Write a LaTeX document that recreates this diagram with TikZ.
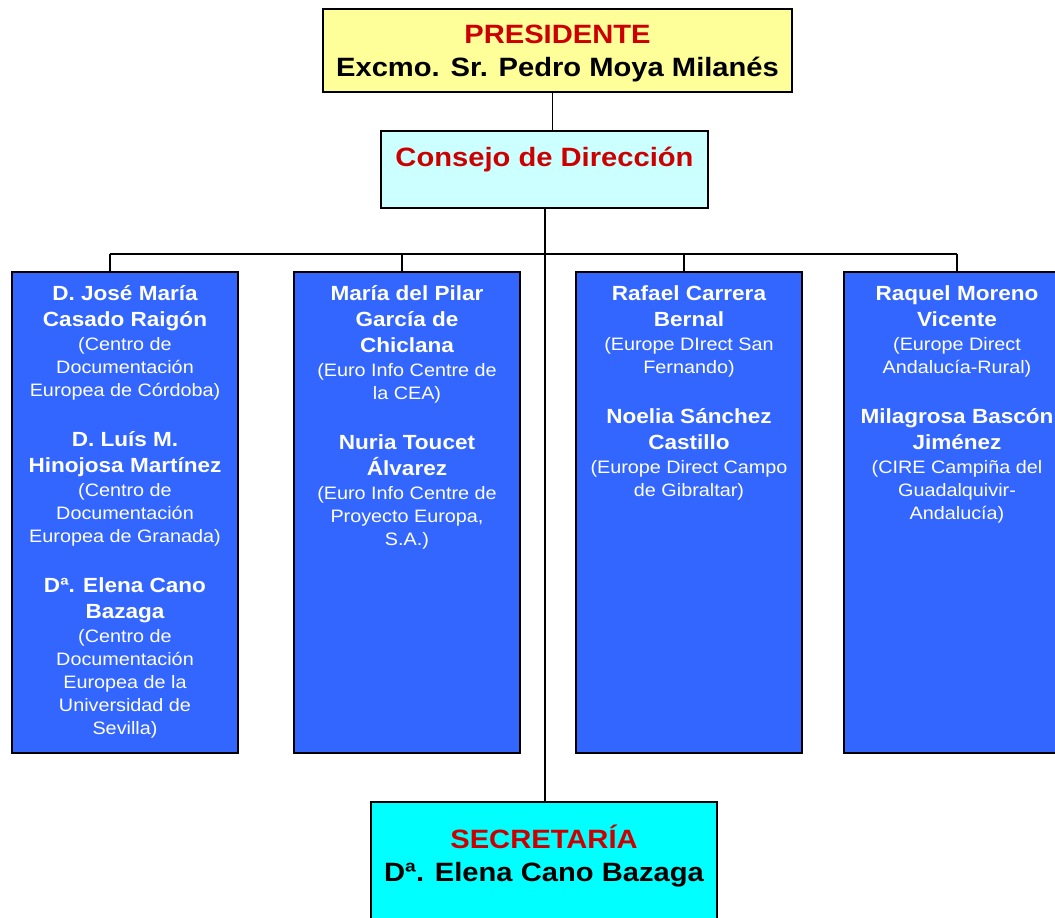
\documentclass[tikz,border=0pt]{standalone}
\usepackage{fontspec}
\setmainfont{Liberation Sans}[FakeStretch=1.1]
\usepackage{xcolor}
\definecolor{presyellow}{RGB}{255,255,153}
\definecolor{conscyan}{RGB}{204,255,255}
\definecolor{seccyan}{RGB}{0,255,255}
\definecolor{colblue}{RGB}{51,102,255}
\definecolor{titlered}{RGB}{204,0,0}
\newcommand{\nm}[1]{{\fontsize{20.5}{26}\selectfont\bfseries #1}}
\newcommand{\topnm}[1]{\rule{0pt}{20pt}\nm{#1}}
\newcommand{\tophead}{\rule{0pt}{26pt}}

\begin{document}
\begin{tikzpicture}[x=1pt,y=-1pt]
    \tikzset{
        headbox/.style={draw,line width=1.5pt,inner sep=0pt},
        headfont/.style={font=\fontsize{26.5}{33}\selectfont\bfseries},
        headtext/.style={headfont,anchor=north,align=center,inner sep=0pt},
        colbox/.style={draw,line width=1.5pt,fill=colblue,minimum width=226pt,minimum height=481pt},
        coltext/.style={anchor=north,align=center,text=white,inner sep=0pt,font=\fontsize{18}{23}\selectfont},
        link/.style={line width=1.5pt}
    }
    \useasboundingbox (0,0) rectangle (1055,918);

    \node[headbox,fill=presyellow,minimum width=469pt,minimum height=83pt] (pres) at (557.5,50.5) {};
    \node[headtext] (prestext) at ([yshift=-9.3pt]pres.north) {\tophead\textcolor{titlered}{PRESIDENTE}\\Excmo. Sr. Pedro Moya Milanés};
    \node[headbox,headfont,fill=conscyan,text=titlered,minimum width=327pt,text height=35.7pt,text depth=41.3pt,anchor=base] (cons) at (544.5,166.7) {Consejo de Dirección};
    \node[headbox,fill=seccyan,minimum width=346pt,minimum height=138pt] (sec) at (544,871) {};
    \node[headtext] (sectext) at ([yshift=-21.3pt]sec.north) {\tophead\textcolor{titlered}{SECRETARÍA}\\Dª. Elena Cano Bazaga};

    \node[colbox] (col1) at (125,512.5) {};
    \node[colbox] (col2) at (407,512.5) {};
    \node[colbox] (col3) at (689,512.5) {};
    \node[colbox] (col4) at (957,512.5) {};

    \node[coltext] (text1) at ([yshift=-9pt]col1.north) {\topnm{D. José María}\\[3pt]\nm{Casado Raigón}\\[1pt](Centro de\\Documentación\\Europea de Córdoba)\\[27pt]%
        \nm{D. Luís M.}\\[3pt]\nm{Hinojosa Martínez}\\[1pt](Centro de\\Documentación\\Europea de Granada)\\[27pt]%
        \nm{Dª. Elena Cano}\\[3pt]\nm{Bazaga}\\[1pt](Centro de\\Documentación\\Europea de la\\Universidad de\\Sevilla)};
    \node[coltext] (text2) at ([yshift=-9pt]col2.north) {\topnm{María del Pilar}\\[3pt]\nm{García de}\\[3pt]\nm{Chiclana}\\[1pt](Euro Info Centre de\\la CEA)\\[27pt]%
        \nm{Nuria Toucet}\\[3pt]\nm{Álvarez}\\[1pt](Euro Info Centre de\\Proyecto Europa,\\S.A.)};
    \node[coltext] (text3) at ([yshift=-9pt]col3.north) {\topnm{Rafael Carrera}\\[3pt]\nm{Bernal}\\[1pt](Europe DIrect San\\Fernando)\\[27pt]%
        \nm{Noelia Sánchez}\\[3pt]\nm{Castillo}\\[1pt](Europe Direct Campo\\de Gibraltar)};
    \node[coltext] (text4) at ([yshift=-9pt]col4.north) {\topnm{Raquel Moreno}\\[3pt]\nm{Vicente}\\[1pt](Europe Direct\\Andalucía-Rural)\\[27pt]%
        \nm{Milagrosa Bascón}\\[3pt]\nm{Jiménez}\\[1pt](CIRE Campiña del\\Guadalquivir-\\Andalucía)};

    % bus to the four columns
    \coordinate (drop1) at (110,254);
    \coordinate (drop2) at (402,254);
    \coordinate (drop3) at (684,254);
    \coordinate (drop4) at (957,254);

    \draw[link] ([xshift=-5pt]pres.south) -- ([xshift=-5pt]pres.south |- cons.north);
    \draw[line width=2pt] (cons.south) -- (cons.south |- sec.north);
    \draw[link] (drop1) -- (drop4);
    \draw[link] (drop1) -- (drop1 |- col1.north);
    \draw[link] (drop2) -- (drop2 |- col2.north);
    \draw[link] (drop3) -- (drop3 |- col3.north);
    \draw[link] (drop4) -- (col4.north);
\end{tikzpicture}
\end{document}
